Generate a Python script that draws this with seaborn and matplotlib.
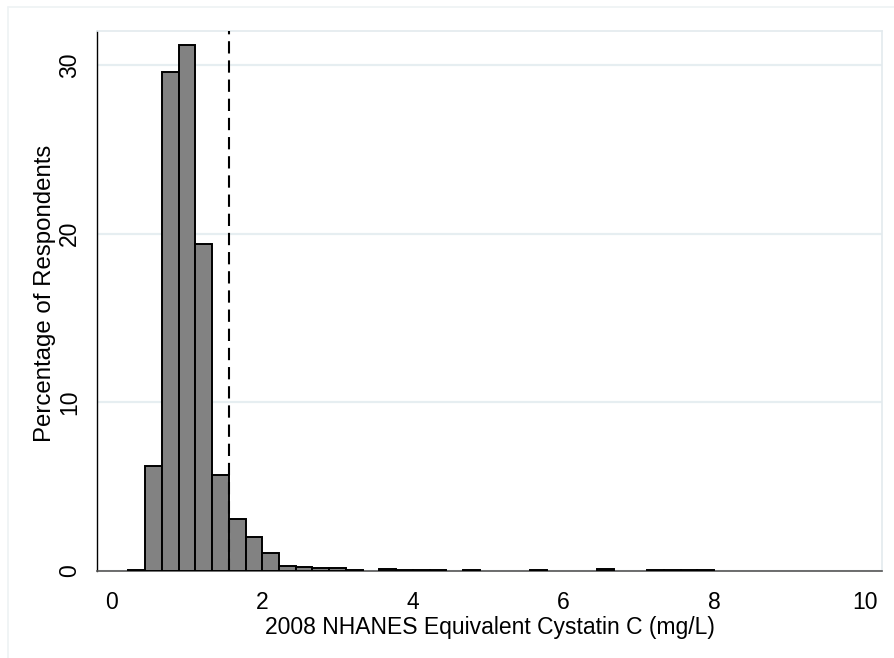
import numpy as np
import pandas as pd
import matplotlib
matplotlib.use("Agg")
import matplotlib.pyplot as plt
from matplotlib.lines import Line2D
import seaborn as sns

# ---- data ----
bin_start = 2 / 9          # left edge of first bin (mg/L)
bin_width = 2 / 9          # histogram bin width (mg/L)
percent = [0.08, 6.2, 29.6, 31.2, 19.4, 5.7, 3.1, 2.0, 1.05, 0.3,
           0.22, 0.15, 0.15, 0.08, 0.0, 0.12, 0.06, 0.06, 0.06, 0.0,
           0.06, 0.0, 0.0, 0.0, 0.05, 0.0, 0.0, 0.0, 0.09, 0.0,
           0.0, 0.04, 0.04, 0.04, 0.04]
cutoff = 1.556
x_ticks = [0, 2, 4, 6, 8, 10]
y_ticks = [0, 10, 20, 30]
x_label = "2008 NHANES Equivalent Cystatin C (mg/L)"
y_label = "Percentage of Respondents"

edges = [bin_start + bin_width * i for i in range(len(percent) + 1)]
mids = [(edges[i] + edges[i + 1]) / 2 for i in range(len(percent))]
df = pd.DataFrame({"cystatin": mids, "pct": percent})

sns.set_style("white")
plt.rcParams["font.family"] = ["Liberation Sans", "DejaVu Sans"]

fig = plt.figure(figsize=(8.94, 6.58), dpi=100)
ax = fig.add_axes([97 / 894, 87 / 658, (882 - 97) / 894, (571 - 31) / 658])

sns.histplot(data=df, x="cystatin", weights="pct", bins=edges, stat="count",
             facecolor="#828282", edgecolor="black", linewidth=1.4, alpha=1,
             ax=ax, zorder=3)
for p in ax.patches:
    if p.get_height() <= 0:
        p.set_visible(False)

ax.axvline(cutoff, color="black", lw=1.5, dashes=(5.9, 3.3), zorder=4)

ax.set_xlim(-0.195, 10.23)
ax.set_ylim(0, 32.0)
ax.set_xticks(x_ticks)
ax.set_yticks(y_ticks)
ax.set_xticklabels([str(t) for t in x_ticks])
ax.set_yticklabels([str(t) for t in y_ticks])

ax.yaxis.grid(True, color="#e6eef1", lw=1.6, zorder=0)
ax.xaxis.grid(False)
ax.set_axisbelow(True)

for s in ["top", "right"]:
    ax.spines[s].set_color("#e3eaee")
    ax.spines[s].set_linewidth(1.2)
ax.spines["left"].set_color("black")
ax.spines["left"].set_linewidth(1.0)
ax.spines["bottom"].set_color("#555555")
ax.spines["bottom"].set_linewidth(1.2)

ax.tick_params(axis="both", which="major", direction="out", length=6.5,
               width=1.0, color="#333333", labelsize=16.5, labelcolor="black")
ax.tick_params(axis="x", pad=8)
ax.tick_params(axis="y", pad=5, labelrotation=90)
for lbl in ax.get_yticklabels():
    lbl.set_va("center")

ax.set_xlabel(x_label, fontsize=16.5, labelpad=1, color="black")
ax.set_ylabel(y_label, fontsize=17.3, color="black")
ax.yaxis.set_label_coords(-0.052, 0.515)

# faint outer graph-region border
fig.add_artist(Line2D([8 / 894, 1.0], [1 - 7 / 658, 1 - 7 / 658],
                      transform=fig.transFigure, color="#eef2f4", lw=1.2))
fig.add_artist(Line2D([8 / 894, 8 / 894], [0.0, 1 - 7 / 658],
                      transform=fig.transFigure, color="#eef2f4", lw=1.2))

fig.savefig("out.png", dpi=100, facecolor="white")
